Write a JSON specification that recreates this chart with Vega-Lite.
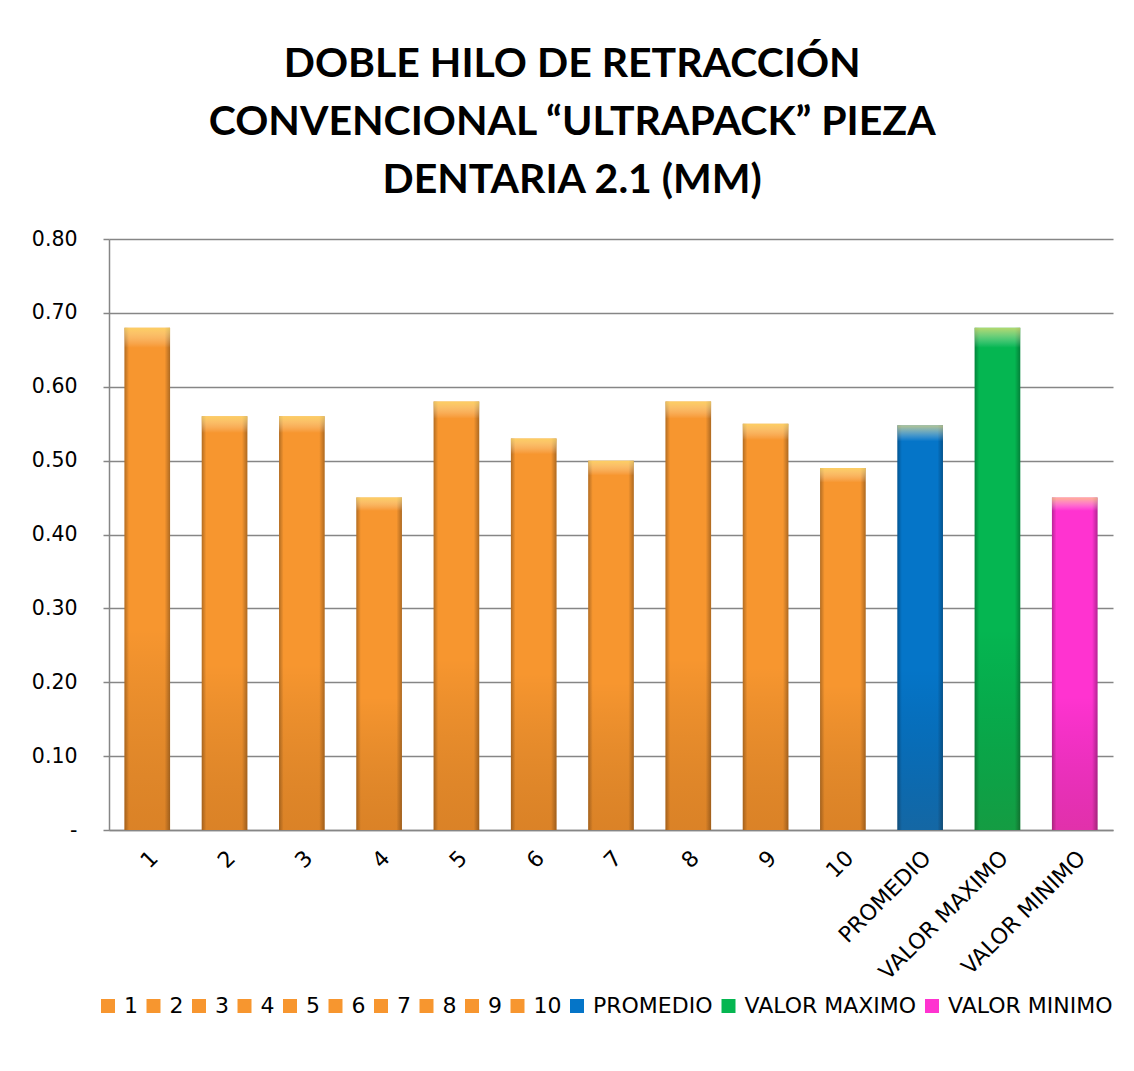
{
  "$schema": "https://vega.github.io/schema/vega-lite/v6.json",
  "autosize": {"type": "none"},
  "width": 1004,
  "height": 591,
  "padding": {"left": 109, "top": 239, "right": 21, "bottom": 241},
  "background": "white",
  "title": {
    "text": ["DOBLE HILO DE RETRACCIÓN", "CONVENCIONAL “ULTRAPACK” PIEZA", "DENTARIA 2.1 (MM)"],
    "font": "Lato",
    "fontSize": 41,
    "fontWeight": "bold",
    "color": "black",
    "lineHeight": 58,
    "anchor": "middle",
    "frame": "bounds",
    "offset": 27
  },
  "data": {
    "values": [
      {"categoria": "1", "valor": 0.68},
      {"categoria": "2", "valor": 0.56},
      {"categoria": "3", "valor": 0.56},
      {"categoria": "4", "valor": 0.45},
      {"categoria": "5", "valor": 0.58},
      {"categoria": "6", "valor": 0.53},
      {"categoria": "7", "valor": 0.50},
      {"categoria": "8", "valor": 0.58},
      {"categoria": "9", "valor": 0.55},
      {"categoria": "10", "valor": 0.49},
      {"categoria": "PROMEDIO", "valor": 0.548},
      {"categoria": "VALOR MAXIMO", "valor": 0.68},
      {"categoria": "VALOR MINIMO", "valor": 0.45}
    ]
  },
  "encoding": {
    "x": {
      "field": "categoria",
      "type": "nominal",
      "sort": null,
      "scale": {"paddingInner": 0.41, "paddingOuter": 0.2},
      "axis": {
        "title": null,
        "labelAngle": -45,
        "labelFont": "DejaVu Sans",
        "labelFontSize": 22,
        "labelColor": "black",
        "labelPadding": 17,
        "ticks": false,
        "domainColor": "#868686",
        "domainWidth": 1.5
      }
    },
    "y": {
      "field": "valor",
      "type": "quantitative",
      "scale": {"domain": [0, 0.8], "nice": false},
      "axis": {
        "title": null,
        "values": [0, 0.1, 0.2, 0.3, 0.4, 0.5, 0.6, 0.7, 0.8],
        "labelExpr": "datum.value == 0 ? '-\u00a0\u00a0' : format(datum.value, '.2f')",
        "labelFont": "DejaVu Sans",
        "labelFontSize": 20.5,
        "labelColor": "black",
        "labelPadding": 26,
        "tickSize": 6,
        "tickColor": "#868686",
        "tickWidth": 1.5,
        "domainColor": "#868686",
        "domainWidth": 1.5,
        "gridColor": "#868686",
        "gridWidth": 1.5
      }
    }
  },
  "layer": [
    {
      "mark": {"type": "bar"},
      "encoding": {
        "color": {
          "field": "categoria",
          "type": "nominal",
          "sort": null,
          "scale": {
            "domain": ["1", "2", "3", "4", "5", "6", "7", "8", "9", "10", "PROMEDIO", "VALOR MAXIMO", "VALOR MINIMO"],
            "range": ["#F7962F", "#F7962F", "#F7962F", "#F7962F", "#F7962F", "#F7962F", "#F7962F", "#F7962F", "#F7962F", "#F7962F", "#0575C8", "#05B651", "#FF33D0"]
          },
          "legend": {
            "title": null,
            "orient": "none",
            "legendX": -12,
            "legendY": 756,
            "direction": "horizontal",
            "columns": 13,
            "symbolType": "square",
            "symbolSize": 196,
            "symbolStrokeWidth": 0,
            "symbolOpacity": 1,
            "labelFont": "DejaVu Sans",
            "labelFontSize": 22,
            "labelColor": "black",
            "labelOffset": 5,
            "labelLimit": 400,
            "columnPadding": 4.5
          }
        }
      }
    },
    {
      "mark": {
        "type": "bar",
        "color": {
          "gradient": "linear",
          "x1": 0, "x2": 1, "y1": 0, "y2": 0,
          "stops": [
            {"offset": 0, "color": "rgba(0,0,0,0.28)"},
            {"offset": 0.1, "color": "rgba(0,0,0,0)"},
            {"offset": 0.88, "color": "rgba(0,0,0,0)"},
            {"offset": 1, "color": "rgba(0,0,0,0.3)"}
          ]
        }
      }
    },
    {
      "mark": {
        "type": "bar",
        "color": {
          "gradient": "linear",
          "x1": 0, "x2": 0, "y1": 0, "y2": 1,
          "stops": [
            {"offset": 0, "color": "rgba(255,230,120,0.7)"},
            {"offset": 0.04, "color": "rgba(255,255,255,0)"},
            {"offset": 0.6, "color": "rgba(0,0,0,0)"},
            {"offset": 1, "color": "rgba(90,40,0,0.18)"}
          ]
        }
      }
    }
  ],
  "config": {
    "view": {"stroke": null}
  }
}
